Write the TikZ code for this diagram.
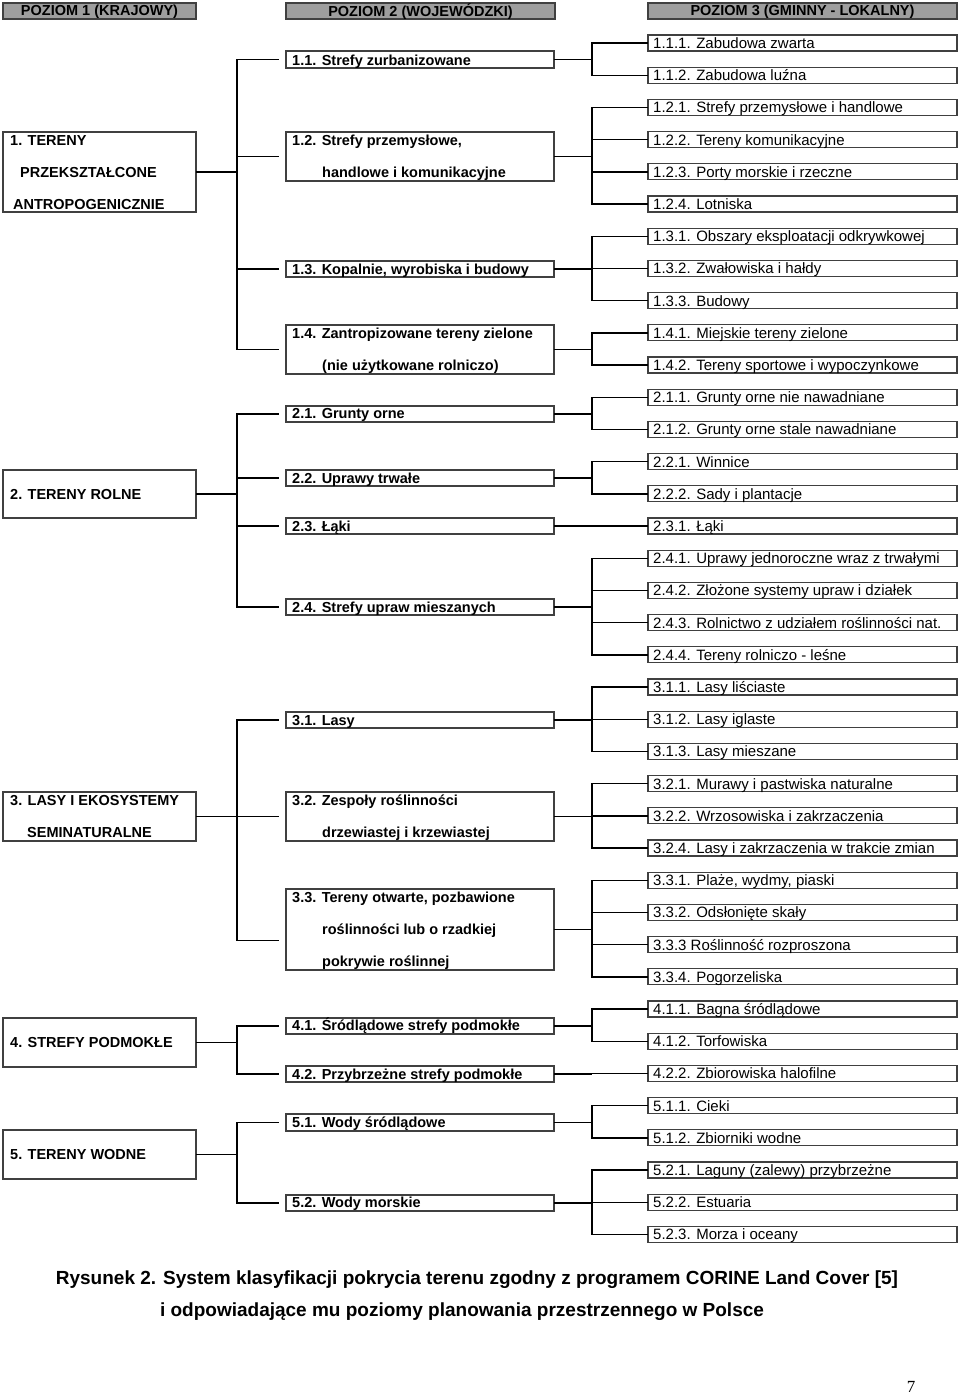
\documentclass[tikz,border=0pt]{standalone}
\usepackage{fontspec}
\setmainfont{Liberation Sans}
\newfontfamily\serifnum{Liberation Serif}
\begin{document}
\begin{tikzpicture}[x=1pt,y=-1pt,
  boxst/.style={draw=black!75,line width=1.1pt,inner sep=0pt,outer sep=0pt,rectangle},
  headst/.style={boxst,fill=black!38},
  conn/.style={line width=1.4pt,black},
  btxt/.style={anchor=base west,inner sep=0pt,font=\fontsize{14.5}{16}\selectfont\bfseries},
  rtxt/.style={anchor=base west,inner sep=0pt,font=\fontsize{15}{17}\selectfont},
  htxt/.style={inner sep=0pt,font=\fontsize{14.5}{16}\selectfont\bfseries}]
\useasboundingbox (0,0) rectangle (960,1393);
\newcommand\mkbox[6][boxst]{\node[#1,minimum width={(#5-#3)*1pt},minimum height={(#6-#4)*1pt}] (#2) at ({(#3+#5)/2},{(#4+#6)/2}) {};}
% headers
\mkbox[headst]{h1}{3}{3}{196}{19}
\mkbox[headst]{h2}{286}{3}{555}{19}
\mkbox[headst]{h3}{648}{3}{957}{19}
\node[htxt] (h1t) at (99.5,11.5) {POZIOM 1 (KRAJOWY)};
\node[htxt] (h2t) at (420.5,11.5) {POZIOM 2 (WOJEWÓDZKI)};
\node[htxt] (h3t) at (802.5,11.5) {POZIOM 3 (GMINNY - LOKALNY)};
% level 1
\mkbox{a1}{3}{132}{196}{212}
\mkbox{a2}{3}{470}{196}{518}
\mkbox{a3}{3}{792}{196}{841}
\mkbox{a4}{3}{1018}{196}{1067}
\mkbox{a5}{3}{1130}{196}{1179}
\node[btxt] (a1t1) at (10,145) {1. TERENY};
\node[btxt] (a1t2) at (20,177) {PRZEKSZTAŁCONE};
\node[btxt] (a1t3) at (13,209) {ANTROPOGENICZNIE};
\node[btxt] (a2t) at (10,499) {2. TERENY ROLNE};
\node[btxt] (a3t1) at (10,805) {3. LASY I EKOSYSTEMY};
\node[btxt] (a3t2) at (27,837) {SEMINATURALNE};
\node[btxt] (a4t) at (10,1047) {4. STREFY PODMOKŁE};
\node[btxt] (a5t) at (10,1159) {5. TERENY WODNE};
% level 2
\mkbox{b11}{286}{51}{554}{68}
\mkbox{b12}{286}{132}{554}{181}
\mkbox{b13}{286}{261}{554}{277}
\mkbox{b14}{286}{325}{554}{374}
\mkbox{b21}{286}{406}{554}{422}
\mkbox{b22}{286}{470}{554}{486}
\mkbox{b23}{286}{518}{554}{534}
\mkbox{b24}{286}{599}{554}{615}
\mkbox{b31}{286}{712}{554}{728}
\mkbox{b32}{286}{792}{554}{841}
\mkbox{b33}{286}{889}{554}{970}
\mkbox{b41}{286}{1018}{554}{1034}
\mkbox{b42}{286}{1066}{554}{1082}
\mkbox{b51}{286}{1114}{554}{1131}
\mkbox{b52}{286}{1195}{554}{1211}
\node[btxt] (b11t) at (292,65) {1.1. Strefy zurbanizowane};
\node[btxt] (b12t1) at (292,145) {1.2. Strefy przemysłowe,};
\node[btxt] (b12t2) at (322,177) {handlowe i komunikacyjne};
\node[btxt] (b13t) at (292,274) {1.3. Kopalnie, wyrobiska i budowy};
\node[btxt] (b14t1) at (292,338) {1.4. Zantropizowane tereny zielone};
\node[btxt] (b14t2) at (322,370) {(nie użytkowane rolniczo)};
\node[btxt] (b21t) at (292,418) {2.1. Grunty orne};
\node[btxt] (b22t) at (292,483) {2.2. Uprawy trwałe};
\node[btxt] (b23t) at (292,531) {2.3. Łąki};
\node[btxt] (b24t) at (292,612) {2.4. Strefy upraw mieszanych};
\node[btxt] (b31t) at (292,725) {3.1. Lasy};
\node[btxt] (b32t1) at (292,805) {3.2. Zespoły roślinności};
\node[btxt] (b32t2) at (322,837) {drzewiastej i krzewiastej};
\node[btxt] (b33t1) at (292,902) {3.3. Tereny otwarte, pozbawione};
\node[btxt] (b33t2) at (322,934) {roślinności lub o rzadkiej};
\node[btxt] (b33t3) at (322,966) {pokrywie roślinnej};
\node[btxt] (b41t) at (292,1030) {4.1. Śródlądowe strefy podmokłe};
\node[btxt] (b42t) at (292,1079) {4.2. Przybrzeżne strefy podmokłe};
\node[btxt] (b51t) at (292,1127) {5.1. Wody śródlądowe};
\node[btxt] (b52t) at (292,1207) {5.2. Wody morskie};
% level 3
\foreach \t [count=\i from 0] in {1.1.1. Zabudowa zwarta,1.1.2. Zabudowa luźna,1.2.1. Strefy przemysłowe i handlowe,1.2.2. Tereny komunikacyjne,1.2.3. Porty morskie i rzeczne,1.2.4. Lotniska,1.3.1. Obszary eksploatacji odkrywkowej,1.3.2. Zwałowiska i hałdy,1.3.3. Budowy,1.4.1. Miejskie tereny zielone,1.4.2. Tereny sportowe i wypoczynkowe,2.1.1. Grunty orne nie nawadniane,2.1.2. Grunty orne stale nawadniane,2.2.1. Winnice,2.2.2. Sady i plantacje,2.3.1. Łąki,2.4.1. Uprawy jednoroczne wraz z trwałymi,2.4.2. Złożone systemy upraw i działek,2.4.3. Rolnictwo z udziałem roślinności nat.,2.4.4. Tereny rolniczo - leśne,3.1.1. Lasy liściaste,3.1.2. Lasy iglaste,3.1.3. Lasy mieszane,3.2.1. Murawy i pastwiska naturalne,3.2.2. Wrzosowiska i zakrzaczenia,3.2.4. Lasy i zakrzaczenia w trakcie zmian,3.3.1. Plaże{,} wydmy{,} piaski,3.3.2. Odsłonięte skały,3.3.3 Roślinność rozproszona,3.3.4. Pogorzeliska,4.1.1. Bagna śródlądowe,4.1.2. Torfowiska,4.2.2. Zbiorowiska halofilne,5.1.1. Cieki,5.1.2. Zbiorniki wodne,5.2.1. Laguny (zalewy) przybrzeżne,5.2.2. Estuaria,5.2.3. Morza i oceany}{
  \pgfmathsetmacro\yc{43+32.2*\i}
  \node[boxst,minimum width=309pt,minimum height=16pt] (c\i) at (802.5,\yc) {};
  \node[rtxt] (c\i t) at (653,\yc+5.5) {\t};
}
% level 1 -> level 2
\newcommand\grp[4]{% parent, junction x, list of children
  \draw[conn] (#1.east) -- (#2,0 |- #1.east) coordinate (j#1);
  \foreach \c in {#3}{\draw[conn,shorten >=#4] (j#1) |- (\c.west);}}
\grp{a1}{237}{b11,b12,b13,b14}{7pt}
\grp{a2}{237}{b21,b22,b23,b24}{7pt}
\grp{a3}{237}{b31,b32}{7pt}
\draw[conn,shorten >=7pt] (ja3) |- ([yshift=-11pt]b33.west);
\grp{a4}{237}{b41,b42}{7pt}
\grp{a5}{237}{b51,b52}{7pt}
% level 2 -> level 3
\grp{b11}{592}{c0,c1}{0pt}
\grp{b12}{592}{c2,c3,c4,c5}{0pt}
\grp{b13}{592}{c6,c7,c8}{0pt}
\grp{b14}{592}{c9,c10}{0pt}
\grp{b21}{592}{c11,c12}{0pt}
\grp{b22}{592}{c13,c14}{0pt}
\grp{b23}{592}{c15}{0pt}
\grp{b24}{592}{c16,c17,c18,c19}{0pt}
\grp{b31}{592}{c20,c21,c22}{0pt}
\grp{b32}{592}{c23,c24,c25}{0pt}
\grp{b33}{592}{c26,c27,c28,c29}{0pt}
\grp{b41}{592}{c30,c31}{0pt}
\grp{b42}{592}{c32}{0pt}
\grp{b51}{592}{c33,c34}{0pt}
\grp{b52}{592}{c35,c36,c37}{0pt}
% caption
\node[anchor=base,inner sep=0pt,font=\fontsize{19}{22}\selectfont\bfseries] (cap1) at (477,1284) {Rysunek 2. System klasyfikacji pokrycia terenu zgodny z programem CORINE Land Cover [5]};
\node[anchor=base,inner sep=0pt,font=\fontsize{19}{22}\selectfont\bfseries] (cap2) at (462,1316) {i odpowiadające mu poziomy planowania przestrzennego w Polsce};
\node[anchor=base,inner sep=0pt,font=\serifnum\fontsize{17}{20}\selectfont] (pg) at (911,1392) {7};
\end{tikzpicture}
\end{document}
